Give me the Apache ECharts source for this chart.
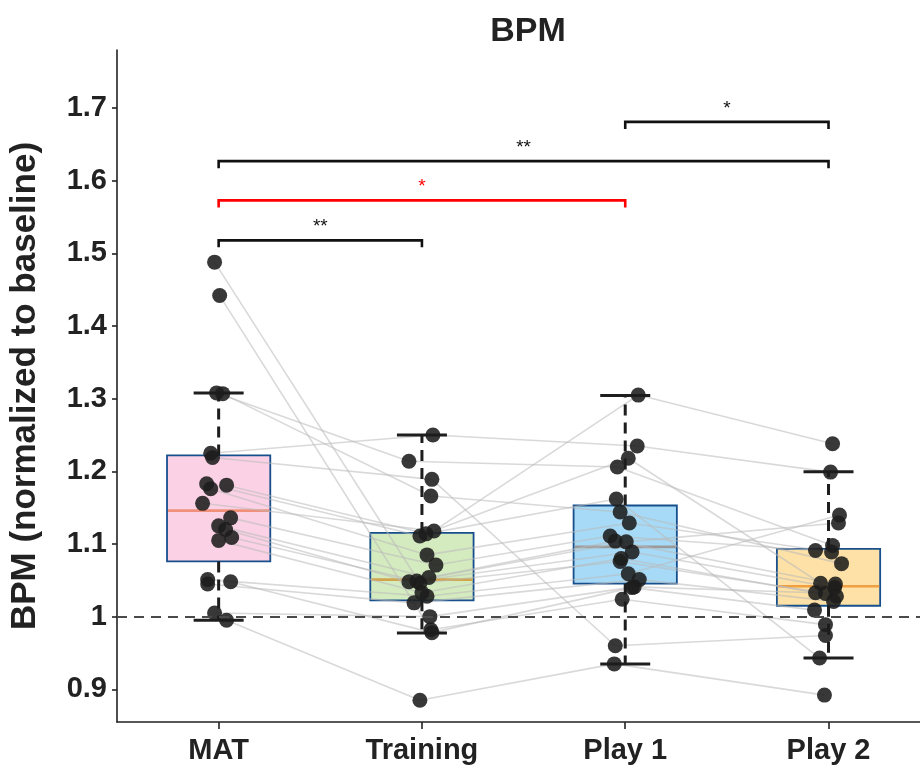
<!DOCTYPE html>
<html>
<head>
<meta charset="utf-8">
<script src="https://cdn.jsdelivr.net/npm/echarts@6/dist/echarts.min.js"></script>
<style>
html, body { margin: 0; padding: 0; background: #fff; }
#main { width: 920px; height: 777px; }
</style>
</head>
<body>
<div id="main"></div>
<script>
var categories = ['MAT', 'Training', 'Play 1', 'Play 2'];
var yTicks = [0.9, 1.0, 1.1, 1.2, 1.3, 1.4, 1.5, 1.6, 1.7];

// one entry per subject, same order in every condition
var matVals   = [1.488, 1.442, 1.308, 1.307, 1.225, 0.995, 1.005, 1.156, 1.219, 1.183, 1.181, 1.176, 1.136, 1.125, 1.120, 1.109, 1.105, 1.051, 1.045, 1.048];
var trainVals = [1.046, 0.982, 1.214, 1.166, 1.250, 0.885, 1.000, 1.118, 1.189, 1.111, 1.114, 1.085, 1.071, 1.054, 1.048, 1.049, 1.033, 1.028, 1.019, 0.978];
var play1Vals = [1.076, 1.024, 1.206, 1.144, 1.235, 0.935, 1.041, 1.305, 0.960, 1.218, 1.162, 1.129, 1.111, 1.104, 1.103, 1.089, 1.080, 1.059, 1.051, 1.040];
var play2Vals = [1.032, 0.989, 1.098, 1.073, 1.199, 0.892, 1.033, 1.238, 0.974, 1.046, 0.943, 1.089, 1.091, 1.045, 1.129, 1.040, 1.028, 1.140, 1.021, 1.009];

// horizontal jitter of each dot (in category units)
var matJit   = [-0.020, 0.005, -0.010, 0.020, -0.039, 0.039, -0.020, -0.079, -0.030, -0.059, 0.039, -0.039, 0.059, 0.000, 0.034, 0.064, 0.000, -0.054, -0.054, 0.059];
var trainJit = [-0.010, 0.044, -0.064, 0.044, 0.054, -0.010, 0.039, 0.059, 0.049, -0.010, 0.020, 0.025, 0.069, 0.034, -0.064, -0.025, 0.000, 0.025, -0.039, 0.049];
var play1Jit = [-0.025, -0.015, -0.039, -0.025, 0.059, -0.054, 0.044, 0.064, -0.049, 0.015, -0.044, 0.020, -0.074, -0.049, 0.005, 0.034, -0.020, 0.015, 0.069, 0.034];
var play2Jit = [-0.015, -0.015, 0.020, 0.064, 0.010, -0.020, -0.064, 0.020, -0.015, -0.039, -0.044, 0.015, -0.064, 0.034, 0.049, 0.030, 0.039, 0.054, 0.025, -0.069];

// box statistics
var boxLow  = [0.995, 0.9775, 0.935, 0.943];
var boxQ1   = [1.076, 1.0225, 1.0455, 1.015];
var boxMed  = [1.146, 1.051, 1.096, 1.0418];
var boxQ3   = [1.222, 1.1153, 1.153, 1.0933];
var boxHigh = [1.308, 1.250, 1.3045, 1.1994];
var boxFill = ['#fbd2e5', '#d4ebc0', '#a7daf6', '#fde1a6'];
var medColor = ['#f0907a', '#d2a54c', '#9a9a9a', '#f0a040'];

// significance brackets
var sigFrom  = [0, 0, 0, 2];
var sigTo    = [1, 2, 3, 3];
var sigY     = [1.518, 1.573, 1.627, 1.681];
var sigText  = ['**', '*', '**', '*'];
var sigColor = ['#111111', '#ff0000', '#111111', '#111111'];

var FONT = "'Liberation Sans', Arial, sans-serif";
var allVals = [matVals, trainVals, play1Vals, play2Vals];
var allJit = [matJit, trainJit, play1Jit, play2Jit];

var chart = echarts.init(document.getElementById('main'));

var boxData = categories.map(function (c, i) {
  return [i, boxLow[i], boxQ1[i], boxMed[i], boxQ3[i], boxHigh[i]];
});

var series = [];

// boxes
series.push({
  type: 'custom',
  z: 1,
  silent: true,
  data: boxData,
  renderItem: function (params, api) {
    var i = api.value(0);
    var hw = 0.254;
    var left = api.coord([i - hw, api.value(2)])[0];
    var right = api.coord([i + hw, api.value(2)])[0];
    var yQ1 = api.coord([i, api.value(2)])[1];
    var yMed = api.coord([i, api.value(3)])[1];
    var yQ3 = api.coord([i, api.value(4)])[1];
    return {
      type: 'group',
      children: [
        { type: 'rect', shape: { x: left, y: yQ3, width: right - left, height: yQ1 - yQ3 },
          style: { fill: boxFill[i], stroke: '#174f8c', lineWidth: 1.8 } },
        { type: 'line', shape: { x1: left + 1, y1: yMed, x2: right - 1, y2: yMed },
          style: { stroke: medColor[i], lineWidth: 2.6 } }
      ]
    };
  }
});

// subject lines
for (var s = 0; s < matVals.length; s++) {
  var pts = [];
  for (var c = 0; c < 4; c++) pts.push([c + allJit[c][s], allVals[c][s]]);
  series.push({
    type: 'line',
    z: 2,
    silent: true,
    symbol: 'none',
    data: pts,
    lineStyle: { color: 'rgba(185,185,185,0.55)', width: 1.6 }
  });
}

// whiskers
series.push({
  type: 'custom',
  z: 3,
  silent: true,
  data: boxData,
  renderItem: function (params, api) {
    var i = api.value(0);
    var cw = 0.123;
    var pLow = api.coord([i, api.value(1)]);
    var pQ1 = api.coord([i, api.value(2)]);
    var pQ3 = api.coord([i, api.value(4)]);
    var pHigh = api.coord([i, api.value(5)]);
    var capL = api.coord([i - cw, 0])[0];
    var capR = api.coord([i + cw, 0])[0];
    var dash = { stroke: '#1e1e1e', lineWidth: 3, lineDash: [11, 7] };
    var solid = { stroke: '#1e1e1e', lineWidth: 3 };
    return {
      type: 'group',
      children: [
        { type: 'line', shape: { x1: pQ3[0], y1: pQ3[1], x2: pHigh[0], y2: pHigh[1] }, style: dash },
        { type: 'line', shape: { x1: pQ1[0], y1: pQ1[1], x2: pLow[0], y2: pLow[1] }, style: dash },
        { type: 'line', shape: { x1: capL, y1: pHigh[1], x2: capR, y2: pHigh[1] }, style: solid },
        { type: 'line', shape: { x1: capL, y1: pLow[1], x2: capR, y2: pLow[1] }, style: solid }
      ]
    };
  }
});

// dots
var dots = [];
for (var c2 = 0; c2 < 4; c2++) {
  for (var s2 = 0; s2 < matVals.length; s2++) {
    dots.push([c2 + allJit[c2][s2], allVals[c2][s2]]);
  }
}
series.push({
  type: 'scatter',
  z: 4,
  silent: true,
  data: dots,
  symbolSize: 15,
  itemStyle: { color: '#1c1c1c', opacity: 0.88 },
  markLine: {
    silent: true,
    symbol: 'none',
    label: { show: false },
    lineStyle: { color: '#4a4a4a', type: [10, 7], width: 1.8, opacity: 1 },
    data: [{ yAxis: 1 }]
  }
});

// significance brackets
series.push({
  type: 'custom',
  z: 5,
  silent: true,
  data: sigY.map(function (y, k) { return [sigFrom[k], sigTo[k], y, k]; }),
  renderItem: function (params, api) {
    var k = api.value(3);
    var a = api.coord([api.value(0), api.value(2)]);
    var b = api.coord([api.value(1), api.value(2)]);
    var drop = 7;
    return {
      type: 'group',
      children: [
        { type: 'polyline',
          shape: { points: [[a[0], a[1] + drop], [a[0], a[1]], [b[0], b[1]], [b[0], b[1] + drop]] },
          style: { stroke: sigColor[k], lineWidth: 2.6, fill: null } },
        { type: 'text',
          style: { text: sigText[k], x: (a[0] + b[0]) / 2, y: a[1] - 4, align: 'center', verticalAlign: 'bottom',
                   fill: sigColor[k], font: '19px ' + FONT } }
      ]
    };
  }
});

var option = {
  animation: false,
  backgroundColor: '#ffffff',
  title: {
    text: 'BPM',
    left: 523,
    top: 10,
    textAlign: 'center',
    textStyle: { fontFamily: FONT, fontWeight: 'bold', fontSize: 34, color: '#222' }
  },
  grid: { left: 117, right: 0, top: 50, bottom: 55, containLabel: false },
  xAxis: {
    type: 'value',
    min: -0.5,
    max: 3.45,
    axisLine: { onZero: false, lineStyle: { color: '#222', width: 1.6 } },
    axisTick: { customValues: [0, 1, 2, 3], length: 7, lineStyle: { color: '#222', width: 1.6 } },
    axisLabel: {
      customValues: [0, 1, 2, 3],
      formatter: function (v) { return categories[Math.round(v)]; },
      margin: 14,
      color: '#222',
      fontFamily: FONT,
      fontWeight: 'bold',
      fontSize: 29
    },
    splitLine: { show: false }
  },
  yAxis: {
    type: 'value',
    min: 0.855,
    max: 1.78,
    name: 'BPM (normalized to baseline)',
    nameLocation: 'middle',
    nameGap: 74,
    nameTextStyle: { fontFamily: FONT, fontWeight: 'bold', fontSize: 35, color: '#222' },
    axisLine: { show: true, onZero: false, lineStyle: { color: '#222', width: 1.6 } },
    axisTick: { show: true, customValues: yTicks, length: 5, lineStyle: { color: '#222', width: 1.6 } },
    axisLabel: {
      customValues: yTicks,
      formatter: function (v) { return Math.abs(v - 1) < 1e-9 ? '1' : v.toFixed(1); },
      margin: 10,
      color: '#222',
      fontFamily: FONT,
      fontWeight: 'bold',
      fontSize: 29
    },
    splitLine: { show: false }
  },
  series: series
};

chart.setOption(option);
</script>
</body>
</html>
